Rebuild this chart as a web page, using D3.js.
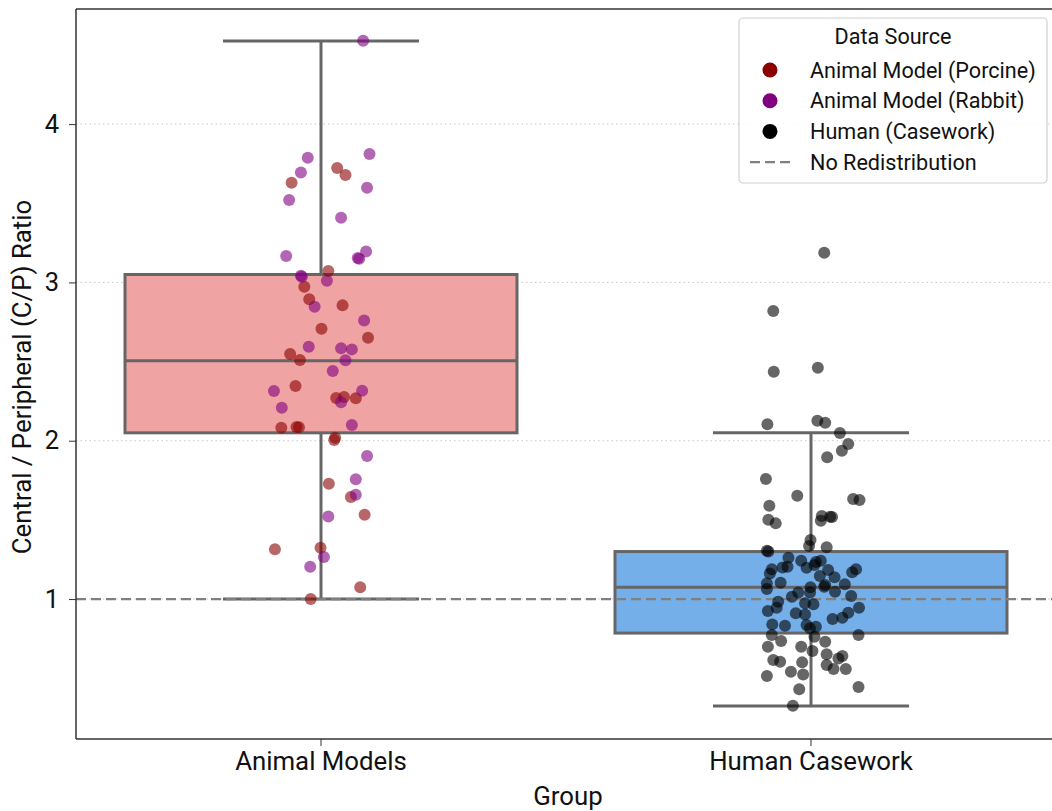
<!DOCTYPE html>
<html>
<head>
<meta charset="utf-8">
<script src="https://cdn.jsdelivr.net/npm/d3@7"></script>
<style>
    body { margin: 0; background: #fff; }
    text { font-family: Roboto, "DejaVu Sans", sans-serif; }
</style>
</head>
<body>
<div id="chart"></div>
<script>
// groups on the x axis
const groups = ["Animal Models", "Human Casework"];
const yTicks = [1, 2, 3, 4];

// box statistics: [whiskerLow, q1, median, q3, whiskerHigh]
const boxAnimal = [1.0, 2.05, 2.505, 3.05, 4.525];
const boxHuman = [0.325, 0.785, 1.075, 1.30, 2.05];

// points: [value, jitter (in group units)]
const porcine = [
    [3.723, 0.033], [3.678, 0.050], [3.630, -0.060], [3.072, 0.015], [2.973, -0.034],
    [2.893, -0.024], [2.855, 0.044], [2.708, 0.001], [2.651, 0.096], [2.548, -0.063],
    [2.510, -0.043], [2.346, -0.052], [2.270, 0.031], [2.276, 0.047], [2.268, 0.071],
    [2.082, -0.081], [2.087, -0.050], [2.085, -0.045], [2.019, 0.029], [2.005, 0.027],
    [1.728, 0.016], [1.644, 0.061], [1.533, 0.089], [1.314, -0.094], [1.324, -0.001],
    [1.074, 0.080], [1.000, -0.021]
];
const rabbit = [
    [4.527, 0.086], [3.788, -0.027], [3.811, 0.099], [3.695, -0.041], [3.598, 0.094],
    [3.520, -0.065], [3.409, 0.041], [3.167, -0.071], [3.196, 0.092], [3.154, 0.075],
    [3.150, 0.078], [3.042, -0.041], [3.036, -0.039], [3.011, 0.012], [2.847, -0.013],
    [2.760, 0.088], [2.594, -0.025], [2.584, 0.041], [2.577, 0.063], [2.508, 0.050],
    [2.440, 0.024], [2.314, -0.096], [2.316, 0.084], [2.243, 0.041], [2.208, -0.080],
    [2.099, 0.063], [1.903, 0.094], [1.756, 0.071], [1.659, 0.071], [1.522, 0.015],
    [1.265, 0.006], [1.204, -0.022]
];
const human = [
    [3.188, 0.027], [2.819, -0.077], [2.436, -0.076], [2.461, 0.014], [2.104, -0.089],
    [2.126, 0.013], [2.114, 0.029], [2.049, 0.059], [1.979, 0.076], [1.937, 0.063],
    [1.895, 0.033], [1.758, -0.092], [1.653, -0.028], [1.632, 0.086], [1.625, 0.099],
    [1.589, -0.085], [1.501, -0.087], [1.478, -0.072], [1.524, 0.022], [1.495, 0.020],
    [1.518, 0.043], [1.520, 0.039], [1.373, -0.001], [1.335, -0.004], [1.327, 0.032],
    [1.305, -0.090], [1.300, -0.087], [1.261, -0.046], [1.242, -0.020], [1.234, 0.010],
    [1.242, 0.020], [1.215, 0.007], [1.188, -0.080], [1.200, -0.058], [1.204, -0.048],
    [1.198, -0.009], [1.183, 0.035], [1.188, 0.092], [1.169, 0.084], [1.162, -0.084],
    [1.145, 0.018], [1.137, 0.048], [1.099, -0.090], [1.103, -0.062], [1.093, 0.069],
    [1.088, 0.029], [1.074, -0.001], [1.063, -0.090], [1.042, -0.026], [1.042, -0.002],
    [1.078, 0.027], [1.046, 0.049], [1.015, -0.039], [1.019, 0.082], [0.983, -0.067],
    [0.973, -0.012], [0.967, 0.005], [0.945, -0.070], [0.924, -0.088], [0.945, 0.098],
    [0.913, 0.076], [0.910, -0.031], [0.903, -0.012], [0.882, 0.064], [0.874, 0.044],
    [0.840, -0.079], [0.831, -0.053], [0.836, -0.009], [0.825, 0.010], [0.815, -0.002],
    [0.773, -0.080], [0.762, 0.007], [0.773, 0.097], [0.735, -0.061], [0.699, -0.020],
    [0.730, 0.029], [0.699, -0.088], [0.672, 0.003], [0.651, 0.032], [0.640, 0.064],
    [0.615, -0.077], [0.604, -0.063], [0.600, -0.018], [0.625, 0.056], [0.583, 0.032],
    [0.558, 0.046], [0.558, 0.071], [0.541, -0.041], [0.524, -0.016], [0.514, -0.090],
    [0.444, 0.097], [0.430, -0.024], [0.326, -0.037]
];

const legendLabels = ["Animal Model (Porcine)", "Animal Model (Rabbit)", "Human (Casework)", "No Redistribution"];

const width = 1052, height = 811;
const plot = { left: 76, right: 1056, top: 9, bottom: 739 };

const svg = d3.select("#chart").append("svg")
    .attr("width", width)
    .attr("height", height);

const x = d3.scaleBand()
    .domain(groups)
    .range([plot.left, plot.right])
    .padding(0);

const y = d3.scaleLinear()
    .domain([0.116, 4.727])
    .range([plot.bottom, plot.top]);

const bw = x.bandwidth();
const center = g => x(g) + bw / 2;

// dotted grid
svg.append("g")
    .selectAll("line")
    .data(yTicks)
    .enter().append("line")
    .attr("x1", plot.left).attr("x2", plot.right)
    .attr("y1", d => y(d)).attr("y2", d => y(d))
    .attr("stroke", "#c8c8c8")
    .attr("stroke-width", 1)
    .attr("stroke-dasharray", "1.5,3");

// boxes
const boxes = [
    { group: groups[0], s: boxAnimal, fill: "#f0a3a3" },
    { group: groups[1], s: boxHuman, fill: "#74afea" }
];
const edge = "#666666";
const boxW = bw * 0.8, capW = boxW / 2;

boxes.forEach(b => {
    const cx = center(b.group);
    const g = svg.append("g");
    g.append("line")
        .attr("x1", cx).attr("x2", cx)
        .attr("y1", y(b.s[0])).attr("y2", y(b.s[1]))
        .attr("stroke", edge).attr("stroke-width", 3);
    g.append("line")
        .attr("x1", cx).attr("x2", cx)
        .attr("y1", y(b.s[3])).attr("y2", y(b.s[4]))
        .attr("stroke", edge).attr("stroke-width", 3);
    [b.s[0], b.s[4]].forEach(v => {
        g.append("line")
            .attr("x1", cx - capW / 2).attr("x2", cx + capW / 2)
            .attr("y1", y(v)).attr("y2", y(v))
            .attr("stroke", edge).attr("stroke-width", 3);
    });
    g.append("rect")
        .attr("x", cx - boxW / 2)
        .attr("y", y(b.s[3]))
        .attr("width", boxW)
        .attr("height", y(b.s[1]) - y(b.s[3]))
        .attr("fill", b.fill)
        .attr("stroke", edge).attr("stroke-width", 3);
    g.append("line")
        .attr("x1", cx - boxW / 2).attr("x2", cx + boxW / 2)
        .attr("y1", y(b.s[2])).attr("y2", y(b.s[2]))
        .attr("stroke", edge).attr("stroke-width", 3);
});

// reference line at 1
svg.append("line")
    .attr("x1", plot.left).attr("x2", plot.right)
    .attr("y1", y(1)).attr("y2", y(1))
    .attr("stroke", "#808080")
    .attr("stroke-width", 2.2)
    .attr("stroke-dasharray", "10,5");

// points
const series = [
    { data: porcine, group: groups[0], color: "#8b0000" },
    { data: rabbit, group: groups[0], color: "#800080" },
    { data: human, group: groups[1], color: "#000000" }
];
series.forEach(s => {
    svg.append("g")
        .selectAll("circle")
        .data(s.data)
        .enter().append("circle")
        .attr("cx", d => center(s.group) + d[1] * bw)
        .attr("cy", d => y(d[0]))
        .attr("r", 6)
        .attr("fill", s.color)
        .attr("fill-opacity", 0.6);
});

// axes
const yAxis = svg.append("g")
    .attr("transform", `translate(${plot.left},0)`)
    .call(d3.axisLeft(y).tickValues(yTicks).tickSize(7).tickPadding(10).tickFormat(d3.format("d")));
yAxis.select(".domain").remove();
yAxis.selectAll("line").attr("stroke", "#333");
yAxis.selectAll("text").style("font-size", "25.5px").attr("fill", "#111");

const xAxis = svg.append("g")
    .attr("transform", `translate(0,${plot.bottom})`)
    .call(d3.axisBottom(x).tickSize(7).tickPadding(6));
xAxis.select(".domain").remove();
xAxis.selectAll("line").attr("stroke", "#333");
xAxis.selectAll("text").style("font-size", "25.8px").attr("fill", "#111");

// spines
svg.append("line")
    .attr("x1", plot.left).attr("x2", plot.left)
    .attr("y1", plot.top).attr("y2", plot.bottom)
    .attr("stroke", "#333").attr("stroke-width", 1.5);
svg.append("line")
    .attr("x1", plot.left).attr("x2", plot.right)
    .attr("y1", plot.bottom).attr("y2", plot.bottom)
    .attr("stroke", "#333").attr("stroke-width", 1.5);
svg.append("line")
    .attr("x1", plot.left).attr("x2", plot.right)
    .attr("y1", plot.top).attr("y2", plot.top)
    .attr("stroke", "#333").attr("stroke-width", 1.5);

svg.append("text")
    .attr("x", (plot.left + plot.right) / 2 + 2)
    .attr("y", 805)
    .attr("text-anchor", "middle")
    .style("font-size", "25.8px")
    .attr("fill", "#111")
    .text("Group");

svg.append("text")
    .attr("transform", `translate(31,${(plot.top + plot.bottom) / 2 + 3}) rotate(-90)`)
    .attr("text-anchor", "middle")
    .style("font-size", "25.8px")
    .attr("fill", "#111")
    .text("Central / Peripheral (C/P) Ratio");

// legend
const legend = svg.append("g");
legend.append("rect")
    .attr("x", 739).attr("y", 18)
    .attr("width", 308).attr("height", 165)
    .attr("rx", 4)
    .attr("fill", "#fff").attr("fill-opacity", 0.85)
    .attr("stroke", "#d0d0d0").attr("stroke-width", 1.2);
legend.append("text")
    .attr("x", 893).attr("y", 44)
    .attr("text-anchor", "middle")
    .style("font-size", "21.6px")
    .attr("fill", "#111")
    .text("Data Source");

const legendColors = ["#8b0000", "#800080", "#000000"];
legendLabels.forEach((lab, i) => {
    const cy = 70 + i * 30.7;
    if (i < 3) {
        legend.append("circle")
            .attr("cx", 770).attr("cy", cy).attr("r", 7.5)
            .attr("fill", legendColors[i]);
    } else {
        legend.append("line")
            .attr("x1", 750).attr("x2", 792)
            .attr("y1", cy).attr("y2", cy)
            .attr("stroke", "#808080").attr("stroke-width", 2.2)
            .attr("stroke-dasharray", "10,5");
    }
    legend.append("text")
        .attr("x", 810).attr("y", cy + 7.5)
        .style("font-size", "21.6px")
        .attr("fill", "#111")
        .text(lab);
});
</script>
</body>
</html>
